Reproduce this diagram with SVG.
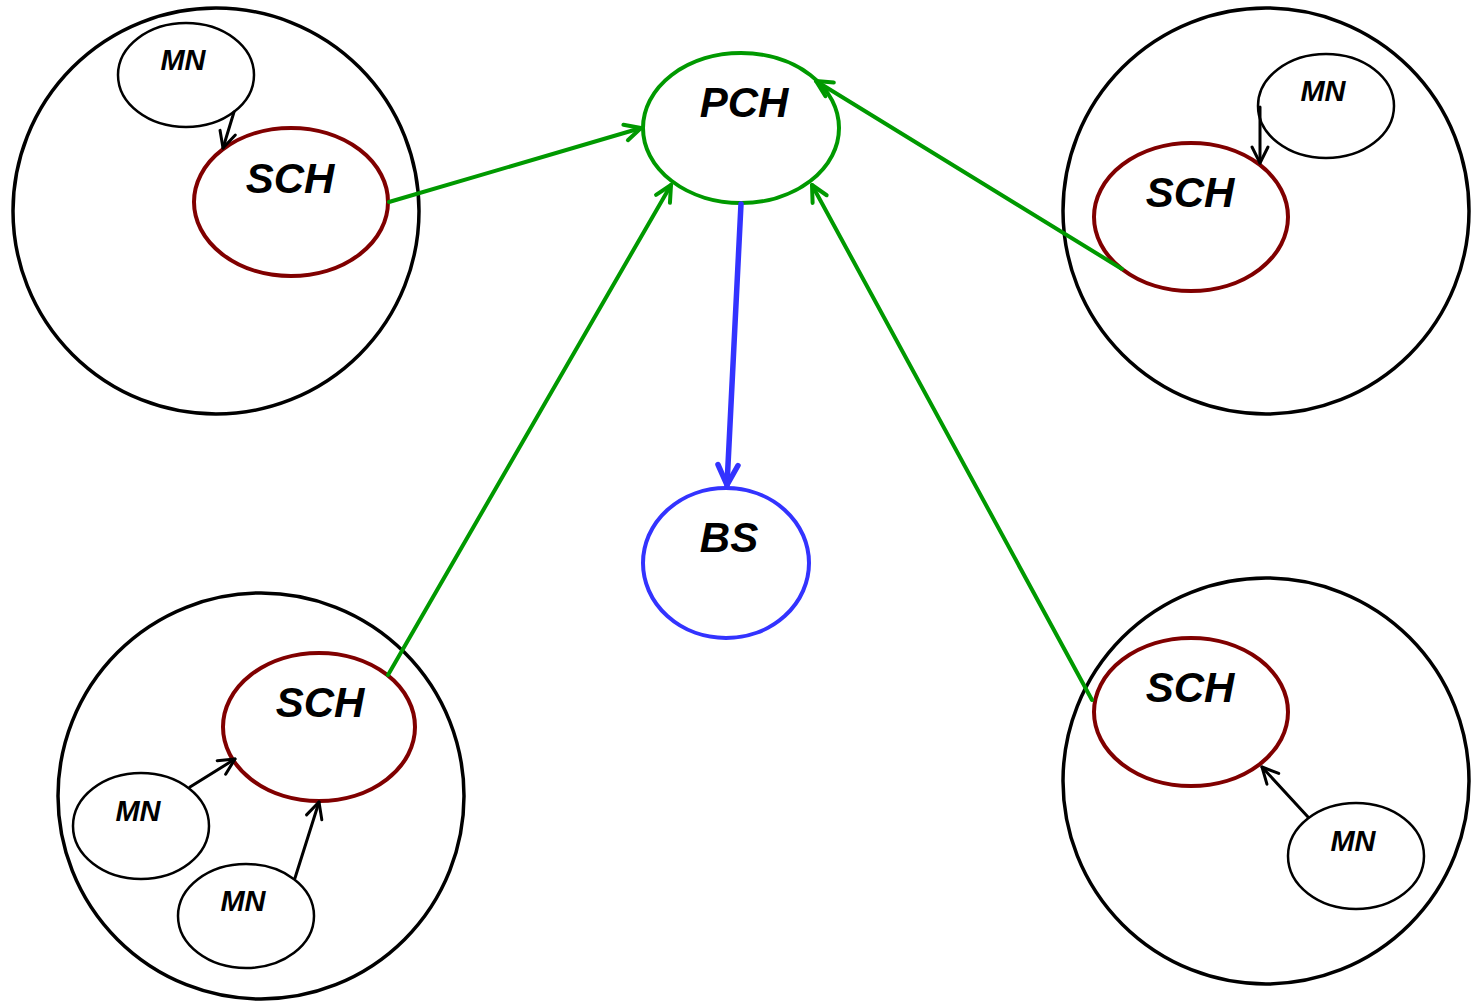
<svg xmlns="http://www.w3.org/2000/svg" width="1475" height="1001" viewBox="0 0 1475 1001">
<style>
.cl{fill:none;stroke:#000;stroke-width:3.5}
.mn{fill:#fff;stroke:#000;stroke-width:2.5}
.sch{fill:#fff;stroke:#800000;stroke-width:4}
.pch{fill:#fff;stroke:#009900;stroke-width:4}
.bs{fill:#fff;stroke:#3333ff;stroke-width:4}
text{font-family:"Liberation Sans",Arial,sans-serif;font-weight:bold;font-style:italic;fill:#000;text-anchor:middle}
.big{font-size:42px}
.small{font-size:29px}
.g{stroke:#009900;stroke-width:4;fill:none;stroke-linecap:round}
.k{stroke:#000;stroke-width:3;fill:none;stroke-linecap:round}
.b{stroke:#3333ff;stroke-width:5.5;fill:none;stroke-linecap:round}
</style>
<defs>
<marker id="ag" markerUnits="userSpaceOnUse" viewBox="-20 -12 24 24" refX="0" refY="0" markerWidth="24" markerHeight="24" orient="auto" overflow="visible">
<path d="M-16,-8 L0,0 L-16,8" fill="none" stroke="#009900" stroke-width="4" stroke-linecap="round" stroke-linejoin="round"/>
</marker>
<marker id="ak" markerUnits="userSpaceOnUse" viewBox="-20 -12 24 24" refX="0" refY="0" markerWidth="24" markerHeight="24" orient="auto" overflow="visible">
<path d="M-16,-8 L0,0 L-16,8" fill="none" stroke="#000" stroke-width="3" stroke-linecap="round" stroke-linejoin="round"/>
</marker>
<marker id="ab" markerUnits="userSpaceOnUse" viewBox="-24 -14 28 28" refX="0" refY="0" markerWidth="28" markerHeight="28" orient="auto" overflow="visible">
<path d="M-20,-10 L0,0 L-20,10" fill="none" stroke="#3333ff" stroke-width="5.5" stroke-linecap="round" stroke-linejoin="round"/>
</marker>
</defs>

<g id="cluster-tl"><circle class="cl" cx="216" cy="211" r="203"/></g>
<g id="cluster-tr"><circle class="cl" cx="1266" cy="211" r="203"/></g>
<g id="cluster-bl"><circle class="cl" cx="261" cy="796" r="203"/></g>
<g id="cluster-br"><circle class="cl" cx="1266" cy="781" r="203"/></g>

<g id="pch"><ellipse class="pch" cx="741" cy="128" rx="98" ry="75"/><text class="big" x="744" y="117">PCH</text></g>
<g id="bs"><ellipse class="bs" cx="726" cy="563" rx="83" ry="75"/><text class="big" x="729" y="552">BS</text></g>

<g id="sch-tl"><ellipse class="sch" cx="291" cy="202" rx="97" ry="74"/><text class="big" x="290" y="193">SCH</text></g>
<g id="mn-tl"><ellipse class="mn" cx="186" cy="75" rx="68" ry="52"/><text class="small" x="183" y="70">MN</text></g>

<g id="sch-tr"><ellipse class="sch" cx="1191" cy="217" rx="97" ry="74"/><text class="big" x="1190" y="207">SCH</text></g>
<g id="mn-tr"><ellipse class="mn" cx="1326" cy="106" rx="68" ry="52"/><text class="small" x="1323" y="101">MN</text></g>

<g id="sch-bl"><ellipse class="sch" cx="319" cy="727" rx="96" ry="74"/><text class="big" x="320" y="717">SCH</text></g>
<g id="mn-bl1"><ellipse class="mn" cx="141" cy="826" rx="68" ry="53"/><text class="small" x="138" y="821">MN</text></g>
<g id="mn-bl2"><ellipse class="mn" cx="246" cy="916" rx="68" ry="52"/><text class="small" x="243" y="911">MN</text></g>

<g id="sch-br"><ellipse class="sch" cx="1191" cy="712" rx="97" ry="74"/><text class="big" x="1190" y="702">SCH</text></g>
<g id="mn-br"><ellipse class="mn" cx="1356" cy="856" rx="68" ry="53"/><text class="small" x="1353" y="851">MN</text></g>

<g id="connectors">
<line class="g" x1="389" y1="202" x2="641" y2="128" marker-end="url(#ag)"/>
<line class="g" x1="388" y1="675" x2="671" y2="185" marker-end="url(#ag)"/>
<line class="g" x1="1092" y1="700" x2="812" y2="185" marker-end="url(#ag)"/>
<line class="g" x1="1122" y1="269" x2="816" y2="81" marker-end="url(#ag)"/>
<line class="b" x1="741" y1="204" x2="727" y2="485" marker-end="url(#ab)"/>
<line class="k" x1="234" y1="112" x2="223" y2="148" marker-end="url(#ak)"/>
<line class="k" x1="1260" y1="107" x2="1260" y2="163" marker-end="url(#ak)"/>
<line class="k" x1="190" y1="787" x2="235" y2="759" marker-end="url(#ak)"/>
<line class="k" x1="295" y1="878" x2="319" y2="802" marker-end="url(#ak)"/>
<line class="k" x1="1308" y1="817" x2="1262" y2="767" marker-end="url(#ak)"/>
</g>
</svg>
